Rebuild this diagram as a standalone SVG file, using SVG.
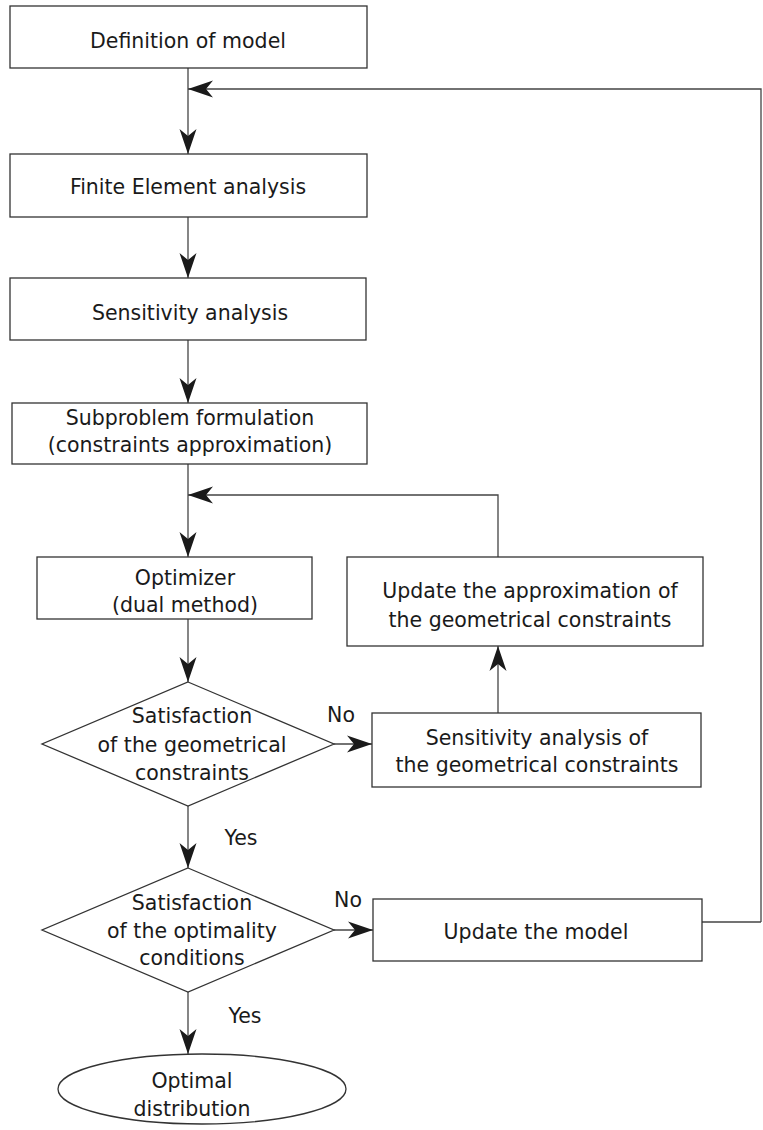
<svg xmlns="http://www.w3.org/2000/svg" width="763" height="1130" viewBox="0 0 763 1130">
<style>
.n{fill:#fff;stroke:#333;stroke-width:1.3}
.c{fill:none;stroke:#444;stroke-width:1.3}
text{font-family:"DejaVu Sans","Verdana",sans-serif;font-size:20.5px;fill:#1a1a1a;text-anchor:middle}
</style>
<defs>
<marker id="ah" markerUnits="userSpaceOnUse" viewBox="-26 -10 27 20" refX="0" refY="0" markerWidth="27" markerHeight="20" orient="auto">
<path d="M0,0 L-25,-8.5 L-18,0 L-25,8.5 Z" fill="#1a1a1a"/>
</marker>
</defs>
<rect width="763" height="1130" fill="#fff"/>
<g id="connectors">
<path class="c" d="M188,68 V154" marker-end="url(#ah)"/>
<path class="c" d="M761,922 V89 H188" marker-end="url(#ah)"/>
<path class="c" d="M702,922 H761"/>
<path class="c" d="M188,217 V278" marker-end="url(#ah)"/>
<path class="c" d="M188,340 V403" marker-end="url(#ah)"/>
<path class="c" d="M188,464 V557" marker-end="url(#ah)"/>
<path class="c" d="M498,557 V495 H188" marker-end="url(#ah)"/>
<path class="c" d="M188,619 V682" marker-end="url(#ah)"/>
<path class="c" d="M334,744 H372" marker-end="url(#ah)"/>
<path class="c" d="M498,713 V646" marker-end="url(#ah)"/>
<path class="c" d="M188,806 V868" marker-end="url(#ah)"/>
<path class="c" d="M334,930 H373" marker-end="url(#ah)"/>
<path class="c" d="M188,992 V1054" marker-end="url(#ah)"/>
<text x="341" y="722">No</text>
<text x="241" y="845">Yes</text>
<text x="348" y="907">No</text>
<text x="245" y="1023">Yes</text>
</g>
<g id="n1"><rect class="n" x="10" y="6" width="357" height="62"/><text x="188" y="48">Definition of model</text></g>
<g id="n2"><rect class="n" x="10" y="154" width="357" height="63"/><text x="188" y="194">Finite Element analysis</text></g>
<g id="n3"><rect class="n" x="10" y="278" width="356" height="62"/><text x="190" y="320">Sensitivity analysis</text></g>
<g id="n4"><rect class="n" x="12" y="403" width="355" height="61"/><text x="190" y="425">Subproblem formulation</text><text x="190" y="452">(constraints approximation)</text></g>
<g id="n5"><rect class="n" x="37" y="557" width="275" height="62"/><text x="185" y="585">Optimizer</text><text x="185" y="612">(dual method)</text></g>
<g id="n6"><rect class="n" x="347" y="557" width="356" height="89"/><text x="530" y="598">Update the approximation of</text><text x="530" y="627">the geometrical constraints</text></g>
<g id="n7"><polygon class="n" points="188,682 334,744 188,806 42,744"/><text x="192" y="723">Satisfaction</text><text x="192" y="752">of the geometrical</text><text x="192" y="780">constraints</text></g>
<g id="n8"><rect class="n" x="372" y="713" width="329" height="74"/><text x="537" y="745">Sensitivity analysis of</text><text x="537" y="772">the geometrical constraints</text></g>
<g id="n9"><polygon class="n" points="188,868 334,930 188,992 42,930"/><text x="192" y="910">Satisfaction</text><text x="192" y="938">of the optimality</text><text x="192" y="965">conditions</text></g>
<g id="n10"><rect class="n" x="373" y="899" width="329" height="62"/><text x="536" y="939">Update the model</text></g>
<g id="n11"><ellipse class="n" cx="202" cy="1089" rx="144" ry="35"/><text x="192" y="1088">Optimal</text><text x="192" y="1116">distribution</text></g>
</svg>
